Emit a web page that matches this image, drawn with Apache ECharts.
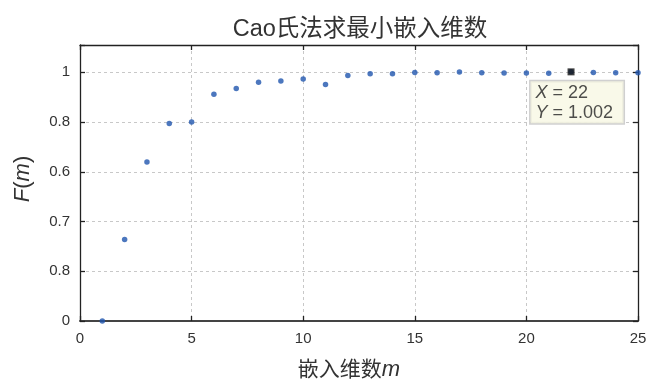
<!DOCTYPE html>
<html><head><meta charset="utf-8">
<script src="https://cdn.jsdelivr.net/npm/echarts@6/dist/echarts.min.js"></script>
<style>html,body{margin:0;padding:0;background:#fff}#c{width:650px;height:380px}</style>
</head><body><div id="c"></div>
<script>
const titleText = 'Cao氏法求最小嵌入维数';
const mValues = [1,2,3,4,5,6,7,8,9,10,11,12,13,14,15,16,17,18,19,20,21,22,23,24,25];
const fValues = [0.0,0.328,0.639,0.794,0.800,0.912,0.935,0.960,0.965,0.973,0.951,0.987,0.994,0.994,0.999,0.998,1.001,0.998,0.997,0.997,0.996,1.002,0.999,0.998,0.998];
const yTickValues = [0,0.2,0.4,0.6,0.8,1];
const yTickLabels = ['0','0.8','0.7','0.6','0.8','1'];
const tipX = 22;
const tipY = 1.002;

const FONT = "'Liberation Sans', Arial, 'Noto Sans CJK SC', sans-serif";
const chart = echarts.init(document.getElementById('c'));
const axisLineStyle = {color:'#222', width:1.3};
const mainData = mValues.map((m,i)=>[m,fValues[i]]);
const yLabelFor = v => {
  for (let i=0;i<yTickValues.length;i++) if (Math.abs(v-yTickValues[i])<1e-6) return yTickLabels[i];
  return '';
};
const tick = {show:true,inside:true,length:5,lineStyle:{color:'#222',width:1.3}};
chart.setOption({
  animation:false,
  backgroundColor:'#fff',
  title:{text:titleText,left:355,textAlign:'center',top:13,
    textStyle:{fontFamily:FONT,fontSize:23.5,fontWeight:'normal',color:'#333'}},
  grid:{left:80,right:12,top:45,bottom:59,show:false,containLabel:false,outerBoundsMode:'none'},
  xAxis:[{
    type:'value',min:0,max:25,interval:5,position:'bottom',
    axisLine:{show:true,onZero:false,lineStyle:{color:'#444',width:2}},
    axisTick:tick,
    axisLabel:{fontFamily:FONT,fontSize:15,color:'#333',margin:10},
    splitLine:{show:true,lineStyle:{color:'#c8c8c8',type:[3,3],width:1}},
    name:'{a|嵌入维数}{b|m}',nameLocation:'middle',nameGap:38,
    nameTextStyle:{padding:[0,20,0,0],rich:{a:{fontFamily:FONT,fontSize:21,color:'#333'},b:{fontFamily:FONT,fontSize:22,fontStyle:'italic',color:'#333'}}}
  },{
    type:'value',min:0,max:25,interval:5,position:'top',
    axisLine:{show:true,onZero:false,lineStyle:axisLineStyle},
    axisTick:tick,
    axisLabel:{show:false},splitLine:{show:false}
  }],
  yAxis:[{
    type:'value',min:0,max:1.11,interval:0.2,position:'left',
    axisLine:{show:true,onZero:false,lineStyle:axisLineStyle},
    axisTick:tick,
    axisLabel:{fontFamily:FONT,fontSize:15,color:'#333',margin:10,formatter:v=>yLabelFor(v)},
    splitLine:{show:true,lineStyle:{color:'#c8c8c8',type:[3,3],width:1}},
    name:'{i|F}{n|(}{i|m}{n|)}',nameLocation:'middle',nameGap:46,
    nameTextStyle:{padding:[0,0,0,8],rich:{i:{fontFamily:FONT,fontSize:22,fontStyle:'italic',color:'#333'},n:{fontFamily:FONT,fontSize:22,color:'#333'}}}
  },{
    type:'value',min:0,max:1.11,interval:0.2,position:'right',
    axisLine:{show:true,onZero:false,lineStyle:axisLineStyle},
    axisTick:tick,
    axisLabel:{show:false},splitLine:{show:false}
  }],
  series:[{
    type:'scatter',xAxisIndex:0,yAxisIndex:0,data:mainData,symbol:'circle',symbolSize:5.5,
    itemStyle:{color:'#1f55ae'},clip:false
  },{
    type:'scatter',xAxisIndex:0,yAxisIndex:0,data:[[tipX,tipY]],symbol:'rect',symbolSize:7,
    itemStyle:{color:'#111'},z:5,clip:false,
    label:{show:true,position:[-37,13],
      formatter:()=>'{i|X}{n| = '+tipX+'}\n{i|Y}{n| = '+tipY.toFixed(3)+'}',
      backgroundColor:'#f8f8e4',borderColor:'#c4c4c4',borderWidth:1.5,
      padding:[2,6,0,5],width:82,
      rich:{i:{fontFamily:FONT,fontSize:18,fontStyle:'italic',color:'#222',lineHeight:20},
            n:{fontFamily:FONT,fontSize:18,color:'#222',lineHeight:20}}}
  }]
});
</script></body></html>
